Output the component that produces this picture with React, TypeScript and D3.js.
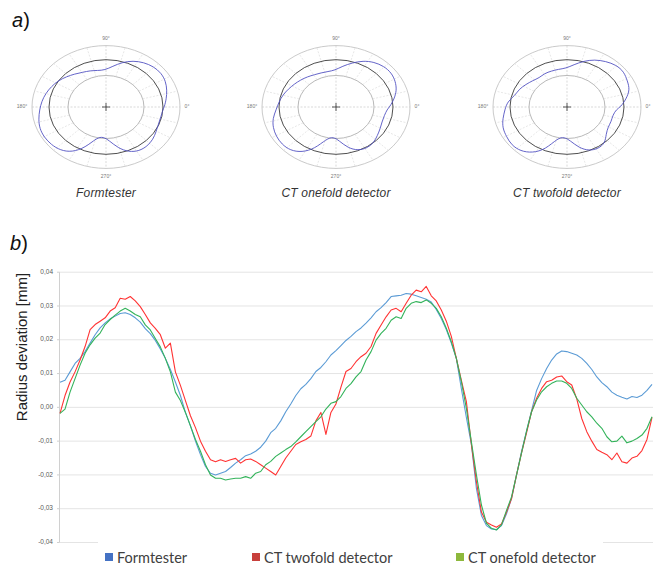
import React from 'react';
import * as d3 from 'd3';

const W = 658;
const H = 566;

// Radius deviation in micrometres (0.001 mm), sampled uniformly over 0..360 degrees
const formtester = [
  7.4, 8.0, 10.5, 13.0, 14.5, 16.5, 19.0, 21.5, 23.5, 25.0, 26.2, 27.0, 27.8, 28.0, 27.5, 26.5, 25.2, 23.3, 21.8, 19.8, 17.3, 14.5, 11.2, 7.5, 3.5, -1.5, -5.5, -10.0, -14.0, -17.5, -19.5,
  -20.0, -19.5, -19.0, -17.8, -16.5, -15.5, -14.3, -13.8, -13.0, -11.8, -10.0, -7.5, -6.2, -4.0, -1.3, 1.0, 3.5, 5.5, 6.8, 8.5, 10.6, 11.8, 13.5, 15.5, 16.8, 18.3, 19.8, 21.0, 22.4,
  23.5, 24.9, 26.5, 28.3, 29.5, 31.0, 32.8, 33.0, 33.2, 33.7, 33.5, 33.0, 32.5, 32.0, 31.2, 29.0, 26.3, 23.0, 19.0, 14.5, 5.5, -3.0, -11.0, -24.0, -32.0, -35.0, -36.0, -36.2, -35.0, -31.5,
  -27.0, -20.0, -13.0, -7.0, -1.0, 5.0, 8.5, 11.5, 14.0, 15.8, 16.7, 16.5, 16.0, 15.5, 14.5, 13.0, 11.2, 9.0, 7.3, 6.1, 4.5, 3.6, 3.0, 2.5, 3.2, 2.9, 3.6, 5.0, 6.8,
];

const ctTwofold = [
  -1.8, 3.5, 7.5, 10.5, 14.0, 18.0, 23.0, 24.5, 25.5, 26.5, 28.5, 29.5, 32.3, 32.0, 32.8, 31.5, 29.8, 27.5, 25.0, 23.4, 21.5, 17.5, 19.0, 10.5, 6.5, 2.0, -2.5, -6.0, -10.0, -13.0, -15.5,
  -16.1, -15.5, -16.0, -15.5, -15.1, -16.5, -15.5, -15.3, -16.0, -17.0, -18.0, -19.0, -20.0, -17.5, -15.0, -13.0, -11.0, -10.2, -9.5, -8.5, -4.0, -1.5, -8.0, -1.5, 1.0, 6.0, 10.6, 11.5, 13.5,
  15.0, 16.0, 18.0, 21.9, 24.4, 26.8, 28.8, 29.3, 28.3, 30.8, 33.2, 34.7, 34.2, 35.8, 33.0, 31.5, 28.8, 25.5, 21.0, 14.5, 8.0, 1.7, -11.0, -22.0, -31.0, -34.0, -34.8, -35.5, -34.5, -31.0,
  -27.0, -20.0, -13.5, -7.5, -1.3, 2.7, 5.6, 7.6, 8.0, 9.0, 9.3, 7.6, 6.6, 2.5, -3.3, -7.2, -10.0, -12.5, -13.3, -14.0, -15.5, -13.5, -16.1, -16.5, -15.0, -14.5, -12.8, -9.5, -3.0,
];

const ctOnefold = [
  -1.8, -0.5, 4.5, 8.5, 12.5, 16.0, 18.5, 20.5, 22.0, 24.5, 26.0, 27.3, 28.5, 29.3, 28.5, 27.5, 26.8, 24.4, 22.9, 20.4, 17.9, 14.5, 10.5, 4.5, 2.0, -1.5, -5.5, -9.5, -13.0, -17.0, -20.0,
  -21.0, -21.0, -21.5, -21.2, -21.0, -21.0, -20.5, -21.0, -19.5, -19.0, -17.0, -16.0, -14.5, -13.5, -12.5, -11.6, -10.2, -8.7, -7.2, -5.7, -4.2, -2.8, -0.5, 1.2, 1.7, 3.2, 5.6, 7.0, 9.0,
  10.6, 14.0, 16.5, 19.9, 21.9, 23.4, 25.8, 26.8, 26.3, 29.3, 30.8, 31.3, 31.0, 31.8, 30.8, 29.3, 26.8, 23.4, 19.4, 14.5, 7.6, -0.3, -10.2, -20.0, -28.9, -34.3, -35.8, -36.3, -34.8, -30.5,
  -26.5, -20.0, -13.5, -7.0, -1.3, 2.2, 4.6, 6.1, 7.1, 7.8, 7.8, 7.1, 5.6, 2.7, 0.7, -1.3, -2.8, -4.7, -6.2, -8.7, -10.2, -10.0, -8.5, -10.5, -10.0, -9.2, -8.2, -6.2, -2.8,
];

const yTicks = [-40, -30, -20, -10, 0, 10, 20, 30, 40];
const legendNames = ['Formtester', 'CT twofold detector', 'CT onefold detector'];
const polarTitles = ['Formtester', 'CT onefold detector', 'CT twofold detector'];
const polarAngleLabels = ['0°', '90°', '180°', '270°'];
const yTitle = 'Radius deviation  [mm]';

const lineColors = ['#5B9BD5', '#FF3333', '#33B35A'];
const legendColors = ['#4472C4', '#C8403C', '#8DB83C'];
const polarCurveColor = '#5252C2';

const SANS = "'Liberation Sans', Arial, sans-serif";

type PolarProps = { cx: number; cy: number; data: number[]; title: string; angles: number[] };

function Polar({ cx, cy, data, title, angles }: PolarProps) {
  const aspect = 0.83;
  const rDev = d3.scaleLinear().domain([-40, 40]).range([34, 75]);
  const rInner = 38;
  const rRef = 57;
  const rOuter = 74;
  // the polar trace is the filtered profile: every third sample, B-spline closed
  const pts: [number, number][] = data
    .slice(0, -1)
    .map((v, i) => ({ v, i }))
    .filter((d) => d.i % 3 === 0)
    .map(({ v, i }) => {
      const a = (angles[i] * Math.PI) / 180;
      const r = rDev(v);
      return [cx + r * Math.cos(a), cy - r * aspect * Math.sin(a)] as [number, number];
    });
  const path = d3.line().curve(d3.curveBasisClosed)(pts) || '';
  const spokes = d3.range(0, 360, 15).filter((a) => a % 90 !== 0);
  const labelPos = [
    [cx + 81, cy],
    [cx, cy - 68],
    [cx - 84, cy],
    [cx, cy + 70],
  ];
  return (
    <g>
      <ellipse cx={cx} cy={cy} rx={rOuter} ry={rOuter * aspect} fill="none" stroke="#c4c4c4" strokeWidth={0.9} />
      <ellipse cx={cx} cy={cy} rx={rInner} ry={rInner * aspect} fill="none" stroke="#b0b0b0" strokeWidth={0.9} />
      {spokes.map((a) => {
        const t = (a * Math.PI) / 180;
        return (
          <line
            key={a}
            x1={cx + rInner * Math.cos(t)}
            y1={cy - rInner * aspect * Math.sin(t)}
            x2={cx + rOuter * Math.cos(t)}
            y2={cy - rOuter * aspect * Math.sin(t)}
            stroke="#dcdcdc"
            strokeWidth={0.7}
            strokeDasharray="2,1.5"
          />
        );
      })}
      <line x1={cx - rOuter} y1={cy} x2={cx + rOuter} y2={cy} stroke="#c8c8c8" strokeWidth={0.7} strokeDasharray="2,1.5" />
      <line x1={cx} y1={cy - rOuter * aspect} x2={cx} y2={cy + rOuter * aspect} stroke="#c8c8c8" strokeWidth={0.7} strokeDasharray="2,1.5" />
      <ellipse cx={cx} cy={cy} rx={rRef} ry={rRef * aspect} fill="none" stroke="#3a3a3a" strokeWidth={0.9} />
      <line x1={cx - 4} y1={cy} x2={cx + 4} y2={cy} stroke="#333" strokeWidth={0.8} />
      <line x1={cx} y1={cy - 4} x2={cx} y2={cy + 4} stroke="#333" strokeWidth={0.8} />
      <path d={path} fill="none" stroke={polarCurveColor} strokeWidth={0.9} />
      {polarAngleLabels.map((l, i) => (
        <text key={l} x={labelPos[i][0]} y={labelPos[i][1]} fontSize={5} fill="#777" textAnchor="middle" dominantBaseline="middle" fontFamily={SANS}>
          {l}
        </text>
      ))}
      <text x={cx} y={197} fontSize={12} fontStyle="italic" fill="#333" textAnchor="middle" fontFamily={SANS} letterSpacing={0.2}>
        {title}
      </text>
    </g>
  );
}

export default function App() {
  const n = formtester.length;
  const angles = d3.range(n).map((i) => (i * 360) / (n - 1));
  const x = d3.scaleLinear().domain([0, 360]).range([60, 652]);
  const y = d3.scaleLinear().domain([-40, 40]).range([542.5, 272.2]);
  const line = d3
    .line<number>()
    .x((_, i) => x(angles[i]))
    .y((d) => y(d));
  const series = [formtester, ctTwofold, ctOnefold];
  const polarData = [formtester, ctOnefold, ctTwofold];
  const polarCx = [106, 336, 567];
  const legendX = [105, 252, 456];

  return (
    <div style={{ position: 'fixed', left: 0, top: 0, width: W, height: H, background: '#fff' }}>
      <svg width={W} height={H} viewBox={`0 0 ${W} ${H}`} style={{ display: 'block' }}>
        <rect x={0} y={0} width={W} height={H} fill="#fff" />
        <text x={12} y={27} fontSize={20} fontFamily={SANS} fill="#111">
          <tspan fontStyle="italic">a</tspan>)
        </text>
        {polarData.map((d, k) => (
          <Polar key={k} cx={polarCx[k]} cy={107} data={d} title={polarTitles[k]} angles={angles} />
        ))}

        <text x={10} y={250} fontSize={20} fontFamily={SANS} fill="#111">
          <tspan fontStyle="italic">b</tspan>)
        </text>

        {yTicks.map((t) => (
          <g key={t}>
            <line x1={59.5} x2={653} y1={y(t)} y2={y(t)} stroke="#e4e4e4" strokeWidth={1} />
            <line x1={57} x2={59.5} y1={y(t)} y2={y(t)} stroke="#d0d0d0" strokeWidth={1} />
            <text x={53} y={y(t)} fontSize={6.5} fill="#595959" textAnchor="end" dominantBaseline="middle" fontFamily={SANS}>
              {(t / 1000).toFixed(2).replace('.', ',')}
            </text>
          </g>
        ))}
        <line x1={59.5} x2={59.5} y1={y(40)} y2={y(-40)} stroke="#d0d0d0" strokeWidth={1} />

        <text
          transform={`translate(27,347) rotate(-90)`}
          fontSize={15}
          fontFamily={SANS}
          fill="#222"
          textAnchor="middle"
        >
          {yTitle}
        </text>

        {series.map((s, k) => (
          <path key={k} d={line(s) || ''} fill="none" stroke={lineColors[k]} strokeWidth={1.1} strokeLinejoin="round" />
        ))}

        <rect x={98} y={538} width={505} height={28} fill="#fff" />
        {legendNames.map((name, k) => (
          <g key={name}>
            <rect x={legendX[k]} y={553} width={8} height={8} fill={legendColors[k]} />
            <text x={legendX[k] + 12} y={562.5} fontSize={14.5} fontFamily="Lato, 'Open Sans', sans-serif" fill="#404040">
              {name}
            </text>
          </g>
        ))}
      </svg>
    </div>
  );
}
